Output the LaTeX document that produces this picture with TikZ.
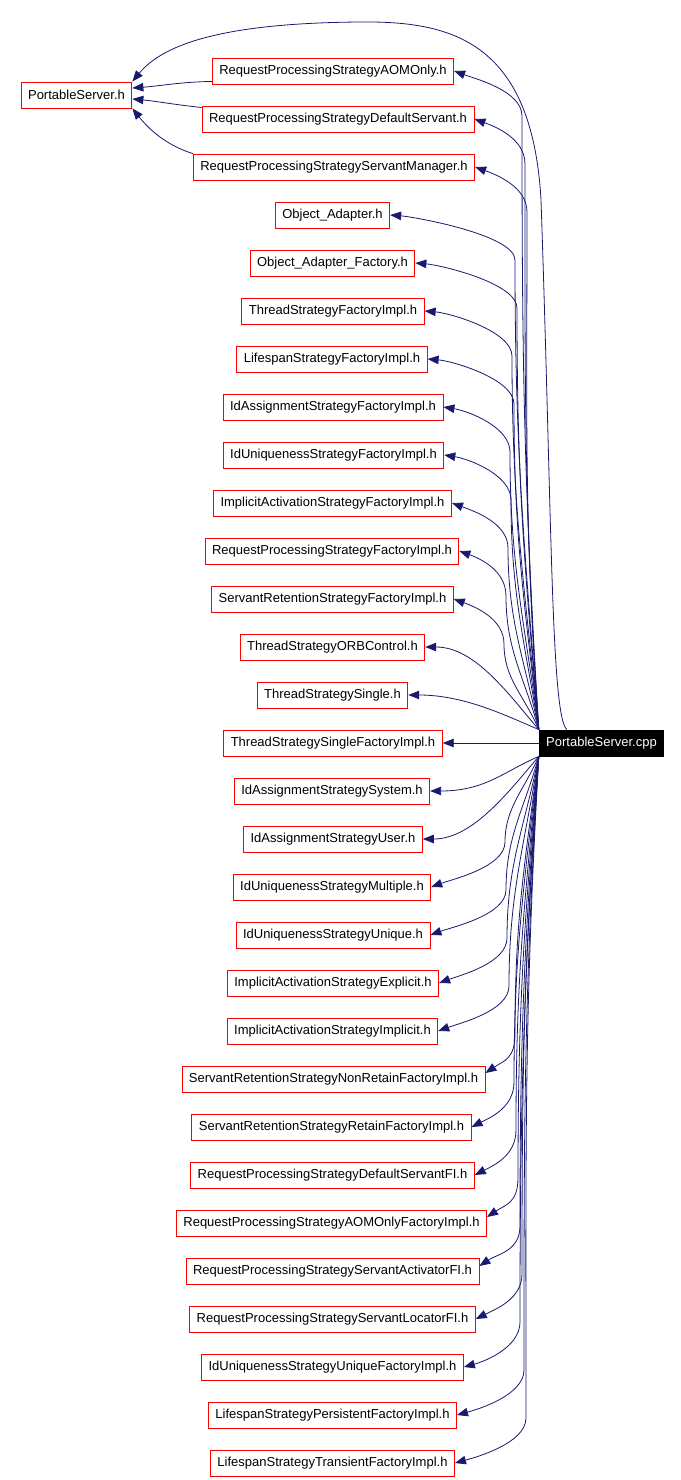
\documentclass[tikz,border=0pt]{standalone}
\usepackage{fontspec}
\setmainfont{Liberation Sans}
\usepackage{tikz}
\usetikzlibrary{arrows.meta}
\definecolor{dxblue}{HTML}{191970}
\definecolor{dxred}{HTML}{FF0000}

\begin{document}
\begin{tikzpicture}[x=1pt,y=-1pt,
  hdr/.style={draw=dxred,line width=0.9pt,minimum height=26pt,inner xsep=7pt,inner ysep=0pt,
    font=\fontsize{13}{15}\selectfont,fill=white},
  src/.style={hdr,draw=black,fill=black,text=white},
  dep/.style={-{Triangle[length=11pt,width=8.5pt]},dxblue,line width=0.8pt}]
  \useasboundingbox (0,0) rectangle (680,1480);
  % the file itself
  \node[src] (cpp) at (601.5,743) {PortableServer.cpp};
  % headers, top to bottom
  \node[hdr] (psh) at (76.5,95) {PortableServer.h};
  \node[hdr] (aom) at (333,71) {RequestProcessingStrategyAOMOnly.h};
  \node[hdr] (dsv) at (338,119) {RequestProcessingStrategyDefaultServant.h};
  \node[hdr] (smg) at (334,167) {RequestProcessingStrategyServantManager.h};
  \node[hdr] (oa) at (332.5,215) {Object\_Adapter.h};
  \node[hdr] (oaf) at (332.5,263) {Object\_Adapter\_Factory.h};
  \node[hdr] (tsf) at (333,311) {ThreadStrategyFactoryImpl.h};
  \node[hdr] (lsf) at (332,359) {LifespanStrategyFactoryImpl.h};
  \node[hdr] (iasf) at (333,407) {IdAssignmentStrategyFactoryImpl.h};
  \node[hdr] (iusf) at (333.5,455) {IdUniquenessStrategyFactoryImpl.h};
  \node[hdr] (iacf) at (332.5,503) {ImplicitActivationStrategyFactoryImpl.h};
  \node[hdr] (rpsf) at (332,551) {RequestProcessingStrategyFactoryImpl.h};
  \node[hdr] (srsf) at (332.5,599) {ServantRetentionStrategyFactoryImpl.h};
  \node[hdr] (tso) at (332.5,647) {ThreadStrategyORBControl.h};
  \node[hdr] (tss) at (332.5,695) {ThreadStrategySingle.h};
  \node[hdr] (tssf) at (333,743) {ThreadStrategySingleFactoryImpl.h};
  \node[hdr] (ias) at (332,791) {IdAssignmentStrategySystem.h};
  \node[hdr] (iau) at (333,839) {IdAssignmentStrategyUser.h};
  \node[hdr] (ium) at (332,887) {IdUniquenessStrategyMultiple.h};
  \node[hdr] (iuu) at (333,935) {IdUniquenessStrategyUnique.h};
  \node[hdr] (iae) at (333,983) {ImplicitActivationStrategyExplicit.h};
  \node[hdr] (iai) at (332.5,1031) {ImplicitActivationStrategyImplicit.h};
  \node[hdr] (srnr) at (333.5,1079) {ServantRetentionStrategyNonRetainFactoryImpl.h};
  \node[hdr] (srr) at (331.5,1127) {ServantRetentionStrategyRetainFactoryImpl.h};
  \node[hdr] (rpds) at (332.5,1175) {RequestProcessingStrategyDefaultServantFI.h};
  \node[hdr] (rpaom) at (331.5,1223) {RequestProcessingStrategyAOMOnlyFactoryImpl.h};
  \node[hdr] (rpsa) at (332.5,1271) {RequestProcessingStrategyServantActivatorFI.h};
  \node[hdr] (rpsl) at (332.5,1319) {RequestProcessingStrategyServantLocatorFI.h};
  \node[hdr] (iuuf) at (332.5,1367) {IdUniquenessStrategyUniqueFactoryImpl.h};
  \node[hdr] (lspf) at (332.5,1415) {LifespanStrategyPersistentFactoryImpl.h};
  \node[hdr] (lstf) at (332.5,1463) {LifespanStrategyTransientFactoryImpl.h};
  % into PortableServer.h
  \draw[dep] ([xshift=28pt]cpp.north west) .. controls (551,715) and (552,520) .. (541,200)
    .. controls (532,40) and (450,21) .. (360,22) .. controls (230,23) and (165,42) .. (psh.north east);
  \draw[dep] ([yshift=3pt]aom.south west) .. controls (180,82) and (160,86) .. ([yshift=7pt]psh.east);
  \draw[dep] ([yshift=-2pt]dsv.north west) .. controls (170,104) and (155,101) .. ([yshift=-4pt]psh.east);
  \draw[dep] (smg.north west) .. controls (165,145) and (148,128) .. (psh.south east);
  % upward from the file
  \draw[dep] (cpp.north west) .. controls +(-15,-246) and +(0,246) .. (522,116) .. controls +(0,-25) and +(22,8) .. (aom.east);
  \draw[dep] (cpp.north west) .. controls +(-15,-227) and +(0,227) .. (525,164) .. controls +(0,-25) and +(22,8) .. (dsv.east);
  \draw[dep] (cpp.north west) .. controls +(-15,-208) and +(0,208) .. (527,212) .. controls +(0,-25) and +(22,8) .. (smg.east);
  \draw[dep] (cpp.north west) .. controls +(-15,-188) and +(0,188) .. (515,260) .. controls +(0,-25) and +(25,2) .. (oa.east);
  \draw[dep] (cpp.north west) .. controls +(-15,-169) and +(0,169) .. (517,308) .. controls +(0,-25) and +(25,2) .. (oaf.east);
  \draw[dep] (cpp.north west) .. controls +(-15,-150) and +(0,150) .. (512,356) .. controls +(0,-25) and +(25,2) .. (tsf.east);
  \draw[dep] (cpp.north west) .. controls +(-15,-131) and +(0,131) .. (514,404) .. controls +(0,-25) and +(25,2) .. (lsf.east);
  \draw[dep] (cpp.north west) .. controls +(-15,-112) and +(0,112) .. (510,452) .. controls +(0,-25) and +(25,4) .. (iasf.east);
  \draw[dep] (cpp.north west) .. controls +(-15,-92) and +(0,92) .. (511,500) .. controls +(0,-25) and +(25,4) .. (iusf.east);
  \draw[dep] (cpp.north west) .. controls +(-15,-73) and +(0,73) .. (508,548) .. controls +(0,-25) and +(22,8) .. (iacf.east);
  \draw[dep] (cpp.north west) .. controls +(-15,-54) and +(0,54) .. (506,596) .. controls +(0,-25) and +(22,8) .. (rpsf.east);
  \draw[dep] (cpp.north west) .. controls +(-15,-35) and +(0,35) .. (504,644) .. controls +(0,-25) and +(22,8) .. (srsf.east);
  \draw[dep] (cpp.north west) .. controls +(-30,-35) and +(50,0) .. (tso.east);
  \draw[dep] (cpp.north west) .. controls +(-35,-15) and +(55,0) .. (tss.east);
  \draw[dep] (cpp.west) -- (tssf.east);
  % downward from the file
  \draw[dep] (cpp.south west) .. controls +(-35,15) and +(55,0) .. (ias.east);
  \draw[dep] (cpp.south west) .. controls +(-30,35) and +(50,0) .. (iau.east);
  \draw[dep] (cpp.south west) .. controls +(-15,34) and +(0,-34) .. (505,842) .. controls +(0,25) and +(22,-8) .. (ium.east);
  \draw[dep] (cpp.south west) .. controls +(-15,54) and +(0,-54) .. (506,890) .. controls +(0,25) and +(22,-8) .. (iuu.east);
  \draw[dep] (cpp.south west) .. controls +(-15,73) and +(0,-73) .. (507,938) .. controls +(0,25) and +(22,-8) .. (iae.east);
  \draw[dep] (cpp.south west) .. controls +(-15,92) and +(0,-92) .. (509,986) .. controls +(0,25) and +(22,-8) .. (iai.east);
  \draw[dep] (cpp.south west) .. controls +(-15,111) and +(0,-111) .. (515,1034) .. controls +(0,25) and +(18,-12) .. ([yshift=6pt]srnr.east);
  \draw[dep] (cpp.south west) .. controls +(-15,130) and +(0,-130) .. (514,1082) .. controls +(0,25) and +(20,-10) .. (srr.east);
  \draw[dep] (cpp.south west) .. controls +(-15,150) and +(0,-150) .. (516,1130) .. controls +(0,25) and +(20,-10) .. (rpds.east);
  \draw[dep] (cpp.south west) .. controls +(-15,169) and +(0,-169) .. (518,1178) .. controls +(0,25) and +(18,-12) .. ([yshift=6pt]rpaom.east);
  \draw[dep] (cpp.south west) .. controls +(-15,188) and +(0,-188) .. (520,1226) .. controls +(0,25) and +(18,-12) .. ([yshift=5pt]rpsa.east);
  \draw[dep] (cpp.south west) .. controls +(-15,207) and +(0,-207) .. (522,1274) .. controls +(0,25) and +(20,-10) .. (rpsl.east);
  \draw[dep] (cpp.south west) .. controls +(-15,226) and +(0,-226) .. (520,1322) .. controls +(0,25) and +(22,-6) .. (iuuf.east);
  \draw[dep] (cpp.south west) .. controls +(-15,246) and +(0,-246) .. (524,1370) .. controls +(0,25) and +(22,-6) .. (lspf.east);
  \draw[dep] (cpp.south west) .. controls +(-15,265) and +(0,-265) .. (526,1418) .. controls +(0,25) and +(22,-6) .. (lstf.east);
\end{tikzpicture}
\end{document}
